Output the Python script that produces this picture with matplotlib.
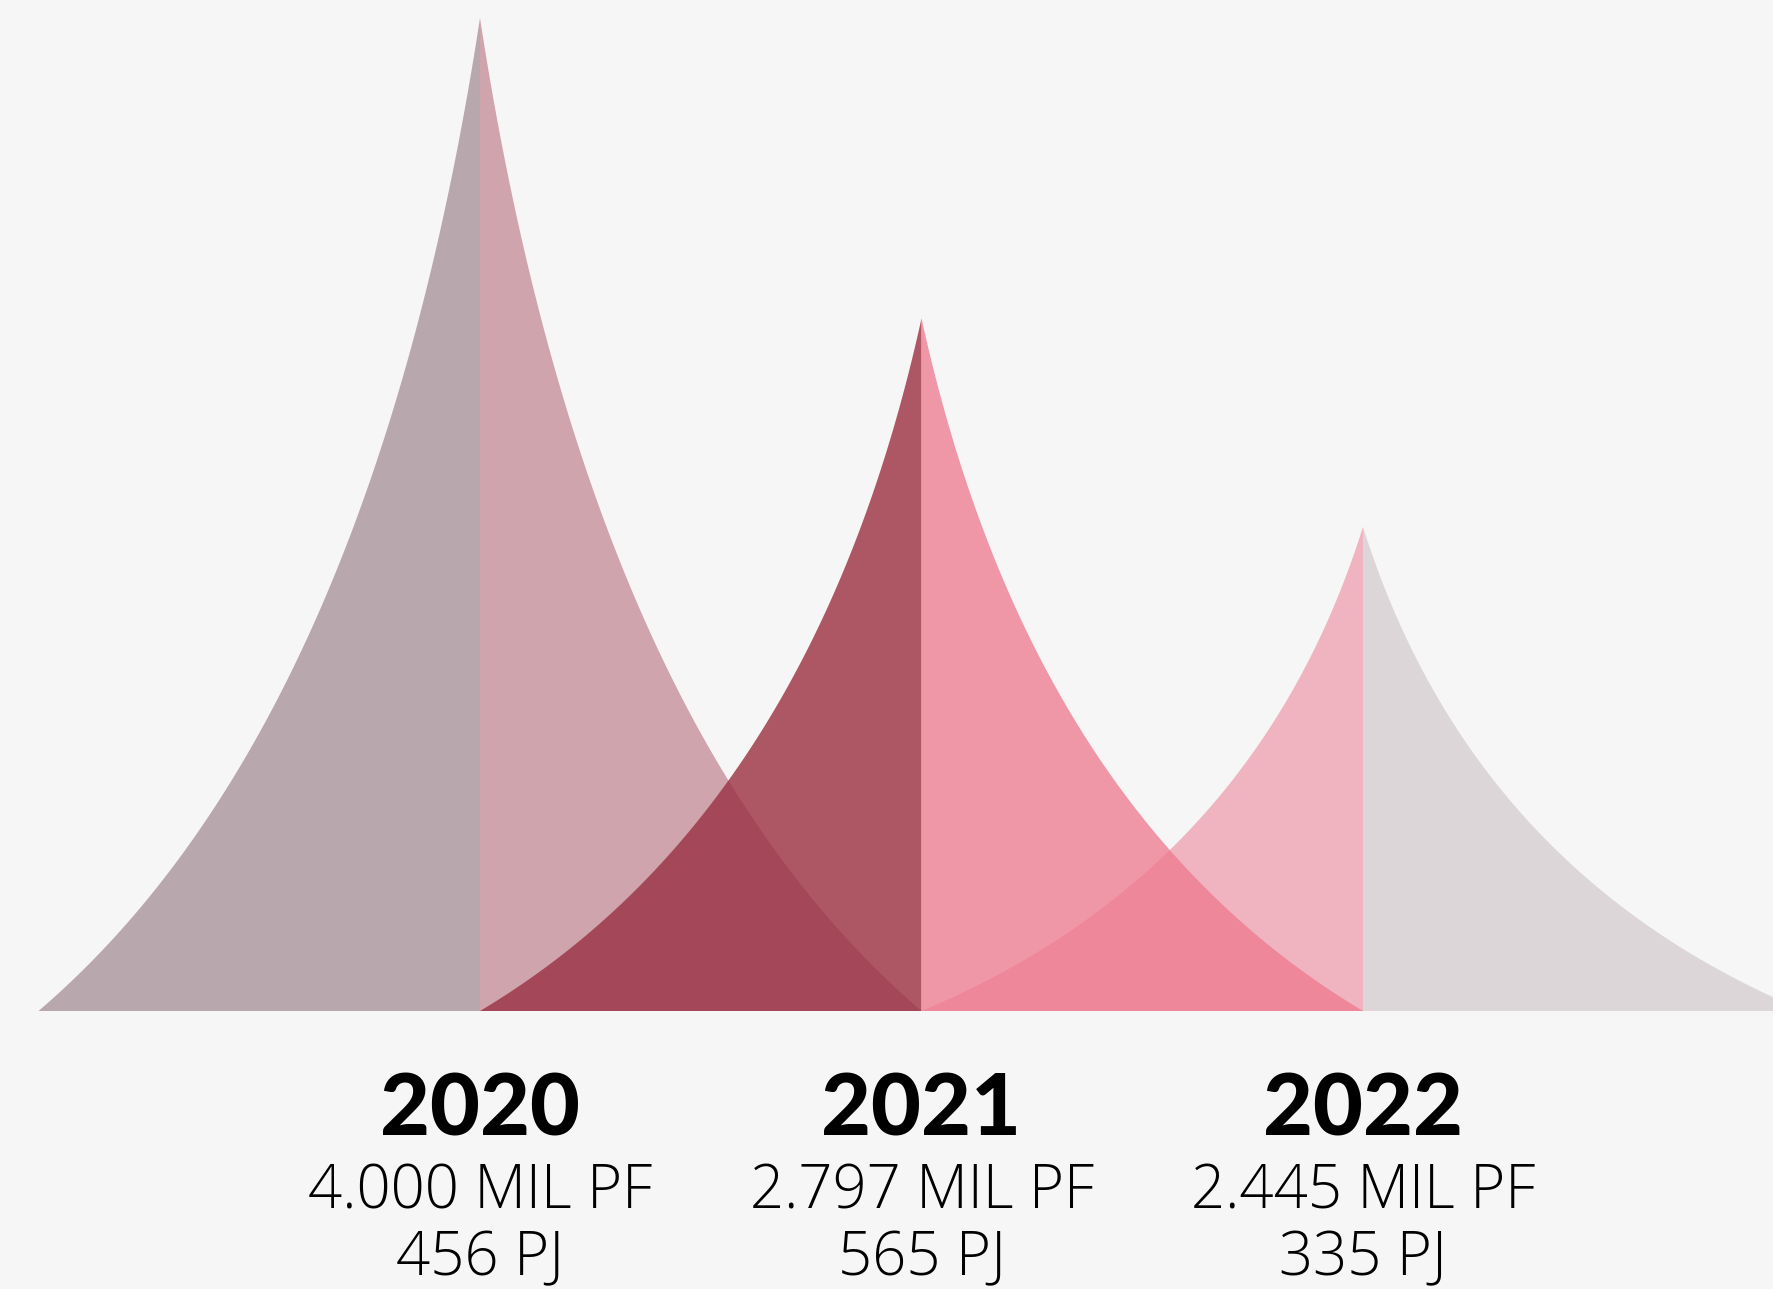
import numpy as np
import matplotlib.pyplot as plt
import matplotlib.colors as mcolors

# Values
years = ["2020", "2021", "2022"]
pf_labels = ["4.000 MIL PF", "2.797 MIL PF", "2.445 MIL PF"]
pj_labels = ["456 PJ", "565 PJ", "335 PJ"]
peak_height = [4.0, 2.79, 1.95]

bg = "#f6f6f6"
# colour of each half where it does not overlap anything
left_colors = ["#b8a8ad", "#ad5764", "#efb4c0"]
right_colors = ["#cfa4ad", "#f097a6", "#dcd6d8"]
right_alpha = [0.42, 0.76, 1.0]


def base_color(target, alpha):
    # colour that gives "target" when drawn with alpha over the background
    t = np.array(mcolors.to_rgb(target))
    b = np.array(mcolors.to_rgb(bg))
    return tuple(np.clip((t - (1 - alpha) * b) / alpha, 0, 1))


# concave spike side: quadratic bezier from base (0,0) to tip (1,1)
t = np.linspace(0, 1, 300)
u = 2 * (1 - t) * t * 0.754 + t ** 2
v = 2 * (1 - t) * t * 0.287 + t ** 2

fig = plt.figure(figsize=(17.73, 12.89), dpi=100, facecolor=bg)
ax = fig.add_axes([0, 0, 1, 1])
ax.set_facecolor(bg)

# left halves first
for i in range(len(years)):
    h = peak_height[i]
    xs = np.concatenate([i - 1 + u, [i, i - 1]])
    ys = np.concatenate([h * v, [0, 0]])
    ax.fill(xs, ys, color=left_colors[i], lw=0)

# right halves on top, partly transparent
for i in range(len(years)):
    h = peak_height[i]
    xs = np.concatenate([i + 1 - u, [i, i + 1]])
    ys = np.concatenate([h * v, [0, 0]])
    a = right_alpha[i]
    ax.fill(xs, ys, color=base_color(right_colors[i], a), alpha=a, lw=0)

# labels under each spike
bold_fam = ["Lato", "DejaVu Sans"]
thin_fam = ["Open Sans", "Lato", "DejaVu Sans"]
for i in range(len(years)):
    ax.text(i, -0.50, years[i], ha="center", va="baseline", fontsize=62,
            fontweight="black", family=bold_fam, color="black")
    ax.text(i, -0.794, pf_labels[i], ha="center", va="baseline", fontsize=43,
            fontweight="light", family=thin_fam, color="black")
    ax.text(i, -1.065, pj_labels[i], ha="center", va="baseline", fontsize=43,
            fontweight="light", family=thin_fam, color="black")

ax.set_xlim(-480 / 441.5, (1773 - 480) / 441.5)
ax.set_ylim(-(1289 - 1011) / 248.25, 1011 / 248.25)
ax.axis("off")

fig.savefig("out.png", dpi=100, facecolor=bg)
